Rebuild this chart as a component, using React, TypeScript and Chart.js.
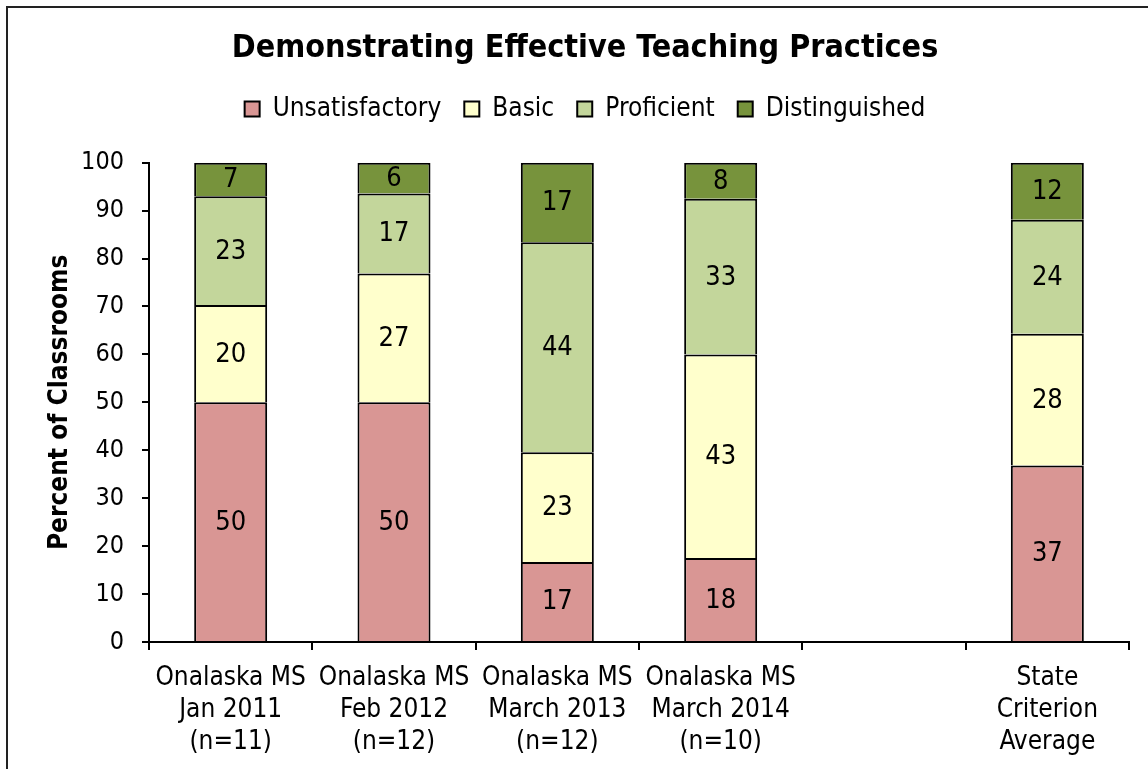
import React, { useEffect, useRef } from "react";
import { Chart, registerables } from "chart.js";

Chart.register(...registerables);

const FONT = "'DejaVu Sans Condensed', 'DejaVu Sans', sans-serif";

const titleText = "Demonstrating Effective Teaching Practices";
const yAxisTitle = "Percent of Classrooms";
const categories: string[][] = [
  ["Onalaska MS", "Jan 2011", "(n=11)"],
  ["Onalaska MS", "Feb 2012", "(n=12)"],
  ["Onalaska MS", "March 2013", "(n=12)"],
  ["Onalaska MS", "March 2014", "(n=10)"],
  [""],
  ["State", "Criterion", "Average"],
];
const seriesNames = ["Unsatisfactory", "Basic", "Proficient", "Distinguished"];
const unsatisfactory = [50.0, 50.0, 16.7, 17.5, null, 36.8];
const basic = [20.3, 26.9, 22.9, 42.5, null, 27.5];
const proficient = [22.7, 16.7, 43.8, 32.5, null, 23.8];
const distinguished = [7.0, 6.4, 16.6, 7.5, null, 11.9];
const seriesColors = ["#D99694", "#FFFFCC", "#C3D69B", "#77933C"];
const yMin = 0;
const yMax = 100;
const yStep = 10;

const framePlugin = {
  id: "frame",
  beforeDraw(chart: any) {
    const ctx = chart.ctx;
    ctx.save();
    ctx.fillStyle = "#ffffff";
    ctx.fillRect(0, 0, chart.width, chart.height);
    ctx.strokeStyle = "#222222";
    ctx.lineWidth = 2;
    ctx.strokeRect(7, 7, 1160, 768);
    ctx.restore();
  },
};

const valueLabels = {
  id: "valueLabels",
  afterDatasetsDraw(chart: any) {
    const ctx = chart.ctx;
    ctx.save();
    ctx.font = `27px ${FONT}`;
    ctx.fillStyle = "#000";
    ctx.textAlign = "center";
    ctx.textBaseline = "middle";
    chart.data.datasets.forEach((ds: any, di: number) => {
      const meta = chart.getDatasetMeta(di);
      meta.data.forEach((el: any, i: number) => {
        const v = ds.data[i];
        if (v == null) return;
        const { x, y, base } = el.getProps(["x", "y", "base"], true);
        ctx.fillText(String(Math.round(v)), x, (y + base) / 2 + 1);
      });
    });
    ctx.restore();
  },
};

export default function App() {
  const ref = useRef<HTMLCanvasElement>(null);
  useEffect(() => {
    const seriesData = [unsatisfactory, basic, proficient, distinguished];
    const chart = new Chart(ref.current as HTMLCanvasElement, {
      type: "bar",
      data: {
        labels: categories,
        datasets: seriesNames.map((name, i) => ({
          label: name,
          data: seriesData[i],
          backgroundColor: seriesColors[i],
          borderColor: "#000",
          borderWidth: 2,
          categoryPercentage: 1,
          barPercentage: 0.447,
        })),
      },
      options: {
        responsive: false,
        maintainAspectRatio: false,
        animation: false,
        layout: { padding: { left: 8, right: 18, top: 8, bottom: 0 } },
        plugins: {
          title: {
            display: true,
            text: titleText,
            color: "#000",
            font: { family: FONT, size: 32, weight: "bold" },
            padding: { top: 21, bottom: 5.6 },
            weight: 2000,
          },
          subtitle: {
            display: true,
            text: "",
            weight: 500,
            font: { size: 1 },
            padding: { top: 29.5, bottom: 0 },
          },
          legend: {
            display: true,
            position: "top",
            weight: 1000,
            labels: {
              color: "#000",
              font: { family: FONT, size: 26 },
              boxWidth: 15,
              boxHeight: 15,
              padding: 23,
            },
          },
          tooltip: { enabled: false },
        },
        scales: {
          x: {
            stacked: true,
            afterFit: (s: any) => {
              s.height = 780 - 642;
            },
            grid: {
              display: true,
              drawOnChartArea: false,
              drawTicks: true,
              tickLength: 8,
              color: "#000",
              lineWidth: 2,
              offset: true,
            },
            border: { display: true, color: "#000", width: 2 },
            ticks: {
              autoSkip: false,
              maxRotation: 0,
              minRotation: 0,
              color: "#000",
              padding: 12,
              font: { family: FONT, size: 26, lineHeight: 32 / 26 },
            },
          },
          y: {
            stacked: true,
            min: yMin,
            max: yMax,
            afterFit: (s: any) => {
              s.width = 141;
            },
            grid: {
              display: true,
              drawOnChartArea: false,
              drawTicks: true,
              tickLength: 7,
              color: "#000",
              lineWidth: 2,
            },
            border: { display: true, color: "#000", width: 2 },
            ticks: {
              stepSize: yStep,
              color: "#000",
              padding: 18,
              font: { family: FONT, size: 25 },
            },
            title: {
              display: true,
              text: yAxisTitle,
              color: "#000",
              font: { family: FONT, size: 26, weight: "bold" },
              padding: { top: 36.4, bottom: 0 },
            },
          },
          y2: {
            type: "linear",
            position: "right",
            display: true,
            afterFit: (s: any) => {
              s.width = 33;
            },
            grid: { display: false },
            border: { display: false },
            ticks: { display: false },
          },
        },
      },
      plugins: [framePlugin, valueLabels],
    } as any);
    return () => chart.destroy();
  }, []);
  return (
    <div
      style={{
        position: "fixed",
        left: 0,
        top: 0,
        width: 1148,
        height: 769,
        overflow: "hidden",
        background: "#fff",
      }}
    >
      <canvas ref={ref} width={1180} height={780} style={{ display: "block" }} />
    </div>
  );
}
